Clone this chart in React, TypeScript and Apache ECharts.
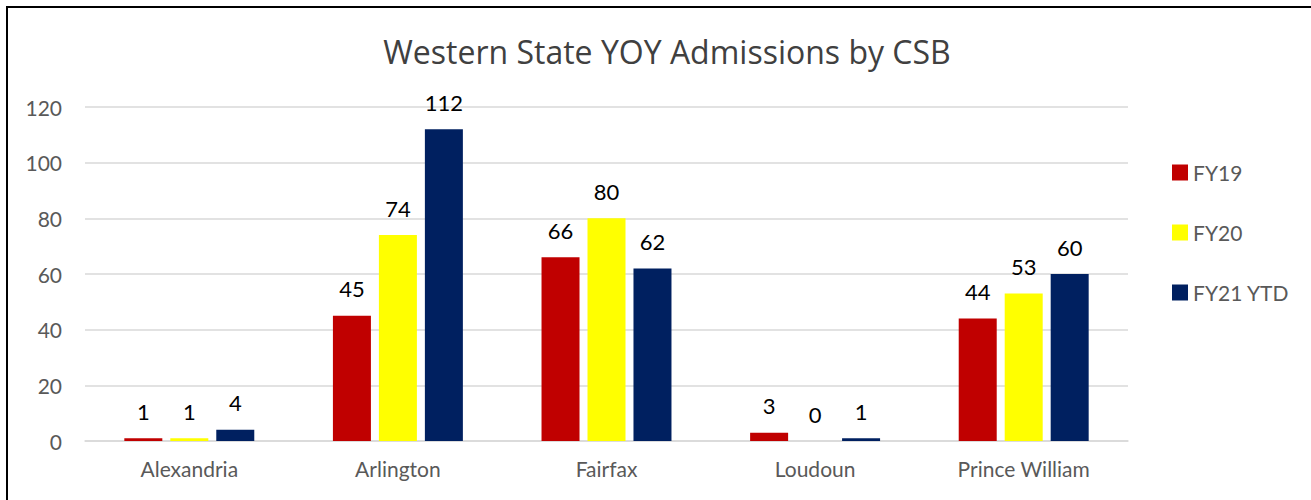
import React, { useEffect, useRef } from "react";
import * as echarts from "echarts";

const categories = ["Alexandria", "Arlington", "Fairfax", "Loudoun", "Prince William"];
const fy19 = [1, 45, 66, 3, 44];
const fy20 = [1, 74, 80, 0, 53];
const fy21 = [4, 112, 62, 1, 60];
const seriesNames = ["FY19", "FY20", "FY21 YTD"];
const colors = ["#C00000", "#FFFF00", "#002060"];
const yTicks = { min: 0, max: 120, interval: 20 };

const FONT = "Lato, 'Open Sans', sans-serif";

export default function App() {
  const ref = useRef<HTMLDivElement>(null);
  useEffect(() => {
    if (!ref.current) return;
    const chart = echarts.init(ref.current, null, { renderer: "svg" });
    const mk = (name: string, data: number[], color: string) => ({
      name,
      type: "bar",
      data,
      barWidth: 38,
      barGap: "21%",
      itemStyle: { color },
      label: {
        show: true,
        position: "top",
        distance: 16,
        color: "#000000",
        fontSize: 22,
        fontFamily: FONT,
      },
    });
    chart.setOption({
      animation: false,
      textStyle: { fontFamily: FONT },
      title: {
        text: "Western State YOY Admissions by CSB",
        left: 662,
        textAlign: "center",
        top: 30,
        textStyle: { fontSize: 32, fontWeight: "normal", color: "#404040", fontFamily: "'Open Sans', sans-serif" },
      },
      graphic: [
        {
          type: "rect",
          shape: { x: 7, y: 7, width: 1330, height: 520 },
          style: { fill: "none", stroke: "#000000", lineWidth: 2 },
          silent: true,
        },
      ],
      legend: {
        orient: "vertical",
        left: 1167,
        top: 157,
        itemWidth: 16,
        itemHeight: 16,
        itemGap: 39,
        icon: "rect",
        textStyle: { fontSize: 21, color: "#595959", fontFamily: FONT },
        data: seriesNames,
      },
      grid: { left: 85, right: 183, top: 107, bottom: 59 },
      xAxis: {
        type: "category",
        data: categories,
        axisLine: { lineStyle: { color: "#D9D9D9", width: 1.5 } },
        axisTick: { show: false },
        axisLabel: { color: "#595959", fontSize: 21, margin: 17, fontFamily: FONT },
      },
      yAxis: {
        type: "value",
        min: yTicks.min,
        max: yTicks.max,
        interval: yTicks.interval,
        axisLine: { show: false },
        axisTick: { show: false },
        axisLabel: { color: "#595959", fontSize: 21, margin: 23, fontFamily: FONT },
        splitLine: { lineStyle: { color: "#D9D9D9", width: 1.5 } },
      },
      series: [
        mk(seriesNames[0], fy19, colors[0]),
        mk(seriesNames[1], fy20, colors[1]),
        mk(seriesNames[2], fy21, colors[2]),
      ],
    });
    return () => chart.dispose();
  }, []);
  return (
    <div
      ref={ref}
      style={{ position: "absolute", left: 0, top: 0, width: 1311, height: 500, background: "#fff" }}
    />
  );
}
